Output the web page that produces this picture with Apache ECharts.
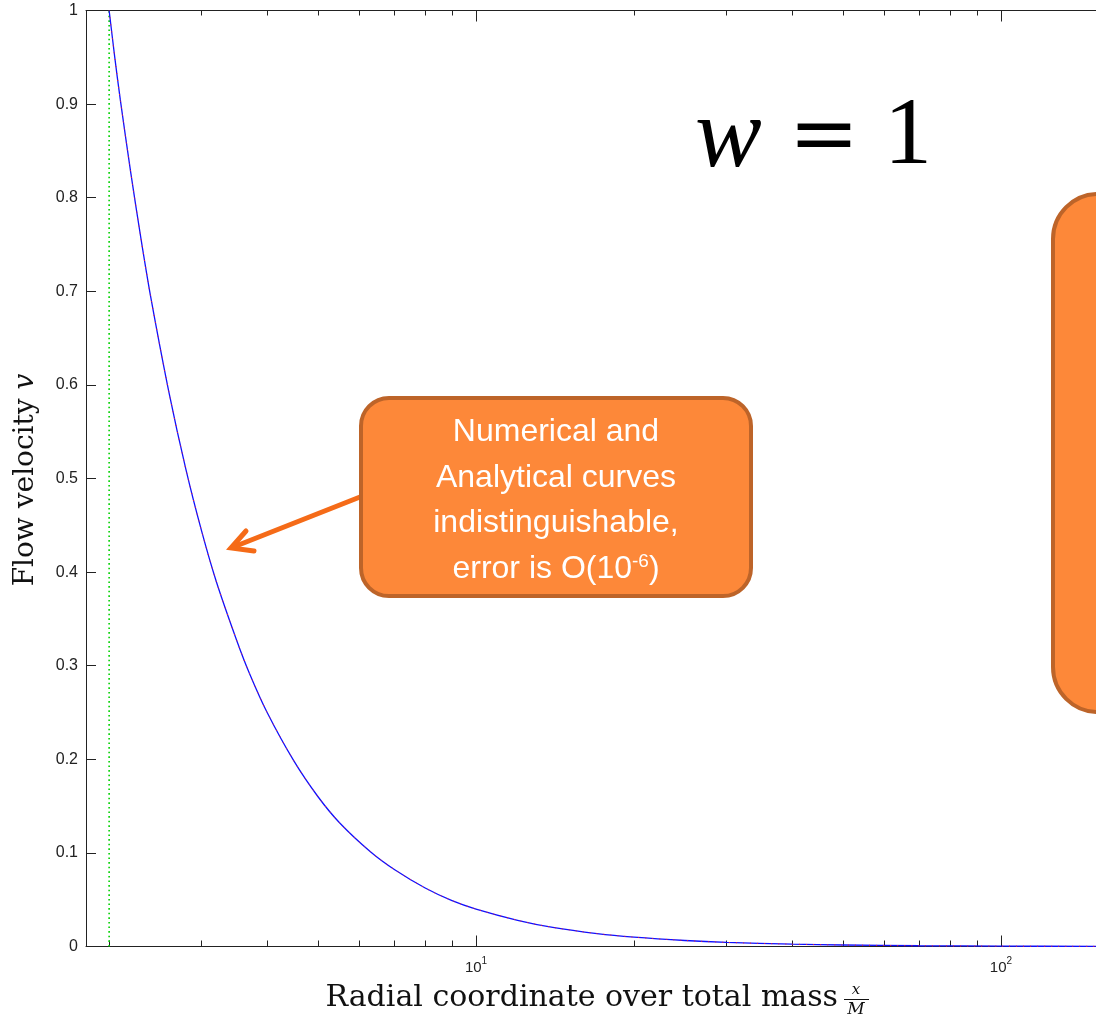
<!DOCTYPE html>
<html>
<head>
<meta charset="utf-8">
<script src="https://cdn.jsdelivr.net/npm/echarts@6/dist/echarts.min.js"></script>
<style>
html,body{margin:0;padding:0;background:#fff;}
#chart{width:1096px;height:1023px;}
</style>
</head>
<body>
<div id="chart"></div>
<script>
// ---- data ----
const radius = [2.0, 2.05, 2.1, 2.2, 2.3, 2.4, 2.6, 2.8, 3.0, 3.2, 3.5, 3.7, 4.0, 4.5, 5.0, 5.5, 6.3, 7.0, 8.0, 9.0, 10, 12, 14, 17, 20, 25, 30, 40, 50, 70, 100, 152];
const numericalV = [1.0, 0.95, 0.905, 0.826, 0.756, 0.694, 0.592, 0.51, 0.444, 0.39, 0.327, 0.292, 0.25, 0.198, 0.16, 0.132, 0.101, 0.082, 0.0625, 0.049, 0.04, 0.028, 0.0204, 0.0138, 0.01, 0.0064, 0.0044, 0.0025, 0.0016, 0.0008, 0.0004, 0.00017];
const analyticalV = [1.0, 0.95, 0.905, 0.826, 0.756, 0.694, 0.592, 0.51, 0.444, 0.39, 0.327, 0.292, 0.25, 0.198, 0.16, 0.132, 0.101, 0.082, 0.0625, 0.049, 0.04, 0.028, 0.0204, 0.0138, 0.01, 0.0064, 0.0044, 0.0025, 0.0016, 0.0008, 0.0004, 0.00017];
const horizonR = 2;
const horizonV = [0, 1];
const xRange = [1.807, 151.7];
const xMajorTicks = [10, 100];
const xMinorTicks = [2, 3, 4, 5, 6, 7, 8, 9, 20, 30, 40, 50, 60, 70, 80, 90];
const yTicks = [0, 0.1, 0.2, 0.3, 0.4, 0.5, 0.6, 0.7, 0.8, 0.9, 1];

const lg = Math.log10;
const numData = radius.map((r, i) => [lg(r), numericalV[i]]);
const anaData = radius.map((r, i) => [lg(r), analyticalV[i]]);
const horizonData = horizonV.map(v => [lg(horizonR), v]);

const axisColor = '#222';
const xMin = lg(xRange[0]), xMax = lg(xRange[1]);

function xAxisDef(pos, ticks, len, showLine, labels) {
  return {
    type: 'value', position: pos, min: xMin, max: xMax,
    axisLine: {show: showLine, onZero: false, lineStyle: {color: axisColor, width: 1}},
    axisTick: {show: true, inside: true, length: len, customValues: ticks.map(lg), lineStyle: {color: axisColor, width: 1}},
    axisLabel: labels ? {
      show: true, margin: 10, customValues: ticks.map(lg),
      formatter: v => '{b|10}{s|' + Math.round(v) + '}',
      rich: {
        b: {fontFamily: 'Liberation Sans', fontSize: 15, color: '#222', verticalAlign: 'bottom'},
        s: {fontFamily: 'Liberation Sans', fontSize: 10, color: '#222', padding: [0, 0, 9, 0], verticalAlign: 'bottom'}
      }
    } : {show: false},
    splitLine: {show: false}
  };
}

const option = {
  animation: false,
  backgroundColor: '#fff',
  grid: {left: 86, top: 10.5, right: 0, bottom: 76.5},
  xAxis: [
    xAxisDef('bottom', xMajorTicks, 11, true, true),
    xAxisDef('bottom', xMinorTicks, 6, false, false),
    xAxisDef('top', xMajorTicks, 11, true, false),
    xAxisDef('top', xMinorTicks, 5, false, false)
  ],
  yAxis: [{
    type: 'value', min: 0, max: 1, interval: 0.1,
    axisLine: {show: true, lineStyle: {color: axisColor, width: 1}},
    axisTick: {show: true, inside: true, length: 10, customValues: yTicks, lineStyle: {color: axisColor}},
    axisLabel: {
      show: true, margin: 8, customValues: yTicks,
      fontFamily: 'Liberation Sans', fontSize: 16, color: '#222',
      formatter: v => (v === 0 ? '0' : (v === 1 ? '1' : v.toFixed(1)))
    },
    splitLine: {show: false}
  }],
  series: [
    {
      name: 'horizon', type: 'line', xAxisIndex: 0, data: horizonData, symbol: 'none',
      lineStyle: {color: '#00d000', width: 1.6, type: [1.6, 3]}, z: 2
    },
    {
      name: 'Analytical', type: 'line', xAxisIndex: 0, data: anaData, symbol: 'none', smooth: 0.3,
      lineStyle: {color: '#1010ff', width: 1.3}, z: 3
    },
    {
      name: 'Numerical', type: 'line', xAxisIndex: 0, data: numData, symbol: 'none', smooth: 0.3,
      lineStyle: {color: '#ff2020', width: 1, type: [1, 6]}, z: 4
    }
  ],
  graphic: [
    // y axis title
    {
      type: 'text', x: 26, y: 480, rotation: Math.PI / 2, z: 10,
      style: {
        text: '{r|Flow velocity }{i|v}', align: 'center', verticalAlign: 'middle',
        rich: {
          r: {fontFamily: 'DejaVu Serif', fontSize: 28, fill: '#111'},
          i: {fontFamily: 'DejaVu Serif', fontStyle: 'italic', fontSize: 28, fill: '#111'}
        }
      }
    },
    // x axis title
    {
      type: 'text', x: 838, y: 998, z: 10,
      style: {text: 'Radial coordinate over total mass', align: 'right', verticalAlign: 'middle',
        fontFamily: 'DejaVu Serif', fontSize: 30, fill: '#111'}
    },
    {
      type: 'text', x: 856, y: 990, z: 10,
      style: {text: 'x', align: 'center', verticalAlign: 'middle', fontFamily: 'DejaVu Serif', fontStyle: 'italic', fontSize: 15, fill: '#111'}
    },
    {
      type: 'line', z: 10, shape: {x1: 844, y1: 999.5, x2: 869, y2: 999.5}, style: {stroke: '#111', lineWidth: 1}
    },
    {
      type: 'text', x: 856, y: 1010, z: 10,
      style: {text: 'M', align: 'center', verticalAlign: 'middle', fontFamily: 'DejaVu Serif', fontStyle: 'italic', fontSize: 17, fill: '#111'}
    },
    // w = 1
    {
      type: 'text', x: 695, y: 140, z: 10,
      style: {text: 'w', align: 'left', verticalAlign: 'middle', fontFamily: 'Liberation Serif', fontStyle: 'italic', fontSize: 100, fill: '#000'}
    },
    {
      type: 'text', x: 824, y: 140, z: 10,
      style: {text: '=', align: 'center', verticalAlign: 'middle', fontFamily: 'DejaVu Serif', fontSize: 84, fill: '#000'}
    },
    {
      type: 'text', x: 908, y: 138, z: 10,
      style: {text: '1', align: 'center', verticalAlign: 'middle', fontFamily: 'Liberation Serif', fontSize: 96, fill: '#000'}
    },
    // callout box
    {
      type: 'rect', z: 20, shape: {x: 361, y: 398, width: 390, height: 198, r: 28},
      style: {fill: '#fd8839', stroke: '#bd6429', lineWidth: 4}
    },
    {type: 'text', x: 556, y: 432, z: 21, style: {text: 'Numerical and', align: 'center', verticalAlign: 'middle', fontFamily: 'Liberation Sans', fontSize: 32, fill: '#fff'}},
    {type: 'text', x: 556, y: 478, z: 21, style: {text: 'Analytical curves', align: 'center', verticalAlign: 'middle', fontFamily: 'Liberation Sans', fontSize: 32, fill: '#fff'}},
    {type: 'text', x: 556, y: 523, z: 21, style: {text: 'indistinguishable,', align: 'center', verticalAlign: 'middle', fontFamily: 'Liberation Sans', fontSize: 32, fill: '#fff'}},
    {
      type: 'text', x: 556, y: 569, z: 21,
      style: {
        text: '{t|error is O(10}{s|-6}{t|)}', align: 'center', verticalAlign: 'middle',
        rich: {
          t: {fontFamily: 'Liberation Sans', fontSize: 32, fill: '#fff', verticalAlign: 'bottom'},
          s: {fontFamily: 'Liberation Sans', fontSize: 19, fill: '#fff', padding: [0, 0, 14, 0], verticalAlign: 'bottom'}
        }
      }
    },
    // arrow
    {
      type: 'line', z: 19, shape: {x1: 360, y1: 497, x2: 236, y2: 546},
      style: {stroke: '#f56b18', lineWidth: 5, lineCap: 'round'}
    },
    {
      type: 'polyline', z: 19, shape: {points: [[246, 531], [231, 548], [254, 551]]},
      style: {stroke: '#f56b18', lineWidth: 5, lineCap: 'round', lineJoin: 'miter', fill: null}
    },
    // right box (cut off)
    {
      type: 'rect', z: 20, shape: {x: 1053, y: 194, width: 120, height: 518, r: 45},
      style: {fill: '#fd8839', stroke: '#bd6429', lineWidth: 4}
    }
  ]
};

const chart = echarts.init(document.getElementById('chart'), null, {renderer: 'canvas'});
chart.setOption(option);
</script>
</body>
</html>
